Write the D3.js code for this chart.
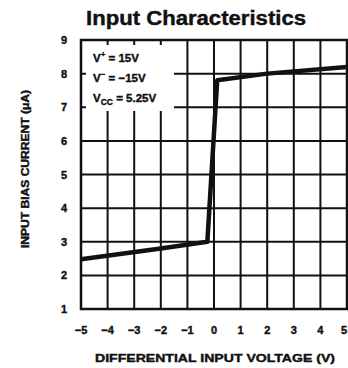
<!DOCTYPE html>
<html>
<head>
<meta charset="utf-8">
<script src="https://cdn.jsdelivr.net/npm/d3@7"></script>
<style>
  body { margin: 0; background: #fff; }
  svg { display: block; }
  text { font-family: "Liberation Sans", Arial, sans-serif; font-weight: bold; fill: #111; stroke: #111; stroke-width: 0.4; }
</style>
</head>
<body>
<svg width="348" height="368"></svg>
<script>
var xTicks = [-5, -4, -3, -2, -1, 0, 1, 2, 3, 4, 5];
var yTicks = [1, 2, 3, 4, 5, 6, 7, 8, 9];
var curveX = [-5, -2, -0.25, 0.12, 2, 5];
var curveY = [2.48, 2.8, 3.0, 7.8, 8.0, 8.2];

var svg = d3.select('svg');
var x = d3.scaleLinear().domain([-5, 5]).range([81, 347]);
var y = d3.scaleLinear().domain([1, 9]).range([309, 40]);

// grid
var grid = svg.append('g').attr('stroke', '#111').attr('stroke-width', 2);
grid.selectAll('line.v').data(xTicks).enter().append('line')
  .attr('x1', x).attr('x2', x).attr('y1', y(1)).attr('y2', y(9));
grid.selectAll('line.h').data(yTicks).enter().append('line')
  .attr('x1', x(-5)).attr('x2', x(5)).attr('y1', y).attr('y2', y);

// legend box hides grid under the text
svg.append('rect').attr('x', 86).attr('y', 45).attr('width', 88).attr('height', 66).attr('fill', '#fff');

// border
svg.append('rect').attr('x', x(-5)).attr('y', y(9))
  .attr('width', x(5) - x(-5)).attr('height', y(1) - y(9))
  .attr('fill', 'none').attr('stroke', '#111').attr('stroke-width', 2.5);

// curve
var line = d3.line().x(function(d) { return x(d[0]); }).y(function(d) { return y(d[1]); });
svg.append('path').datum(d3.zip(curveX, curveY))
  .attr('d', line).attr('fill', 'none').attr('stroke', '#111')
  .attr('stroke-width', 4.5).attr('stroke-linejoin', 'round');

// notes
var nt = svg.append('g').attr('font-size', 11.5);
var t1 = nt.append('text').attr('x', 93).attr('y', 62).text('V');
t1.append('tspan').attr('dy', -5).attr('font-size', 8).text('+');
t1.append('tspan').attr('dy', 5).text(' = 15V');
var t2 = nt.append('text').attr('x', 93).attr('y', 82).text('V');
t2.append('tspan').attr('dy', -5).attr('font-size', 8).text('−');
t2.append('tspan').attr('dy', 5).text(' = −15V');
var t3 = nt.append('text').attr('x', 93).attr('y', 102).text('V');
t3.append('tspan').attr('dy', 3).attr('font-size', 8.5).text('CC');
t3.append('tspan').attr('dy', -3).text(' = 5.25V');

// tick labels
svg.append('g').selectAll('text').data(xTicks).enter().append('text')
  .attr('x', function(d) { return d === 5 ? x(d) - 3 : x(d); })
  .attr('y', 334).attr('text-anchor', 'middle').attr('font-size', 11)
  .text(function(d) { return d < 0 ? '−' + (-d) : d; });
svg.append('g').selectAll('text').data(yTicks).enter().append('text')
  .attr('x', 64).attr('y', function(d) { return y(d) + 4; }).attr('text-anchor', 'middle').attr('font-size', 11)
  .text(function(d) { return d; });

// titles
svg.append('text').attr('x', 196).attr('y', 25).attr('text-anchor', 'middle')
  .attr('font-size', 20).attr('textLength', 220).attr('lengthAdjust', 'spacingAndGlyphs')
  .text('Input Characteristics');
svg.append('text').attr('x', 215).attr('y', 362).attr('text-anchor', 'middle')
  .attr('font-size', 11).attr('textLength', 240).attr('lengthAdjust', 'spacingAndGlyphs')
  .text('DIFFERENTIAL INPUT VOLTAGE (V)');
svg.append('text').attr('transform', 'translate(29,169) rotate(-90)').attr('text-anchor', 'middle')
  .attr('font-size', 10).attr('textLength', 158).attr('lengthAdjust', 'spacingAndGlyphs')
  .text('INPUT BIAS CURRENT (μA)');
</script>
</body>
</html>
